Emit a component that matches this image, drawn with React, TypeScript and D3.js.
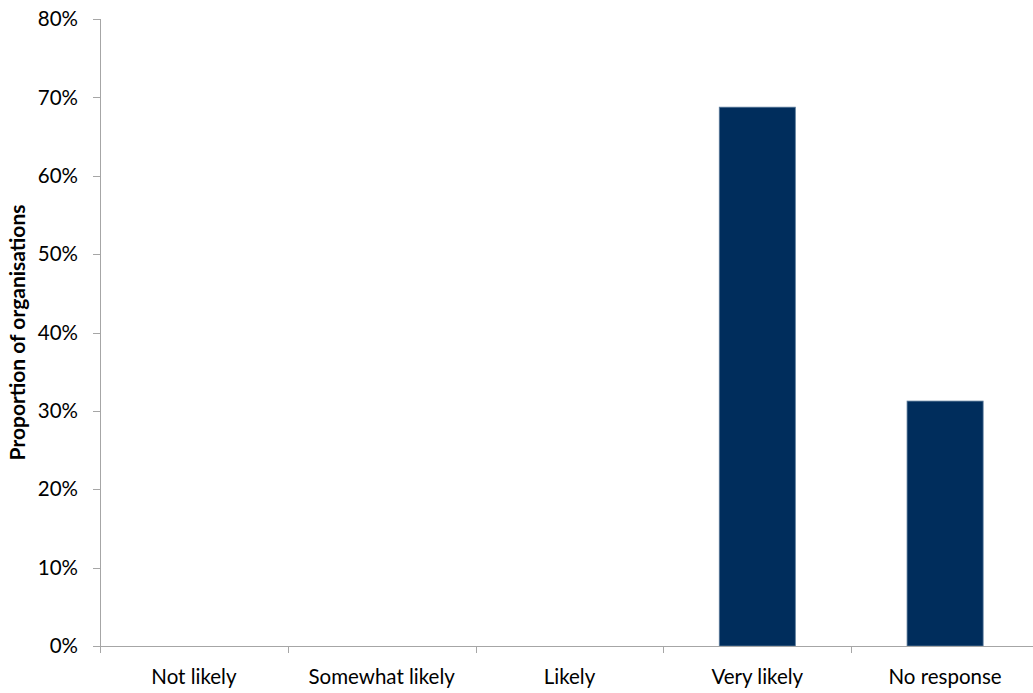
import React from "react";
import * as d3 from "d3";

const categories = ["Not likely", "Somewhat likely", "Likely", "Very likely", "No response"];
const values = [0, 0, 0, 68.75, 31.25];
const yTicks = [0, 10, 20, 30, 40, 50, 60, 70, 80];
const yTitle = "Proportion of organisations";

const W = 1033;
const H = 693;
const margin = { left: 100, top: 19, right: -6, bottom: 47 };
const font = "Lato, 'Open Sans', sans-serif";

export default function App() {
  const x = d3
    .scaleBand<string>()
    .domain(categories)
    .range([margin.left, W - margin.right])
    .paddingInner(0)
    .paddingOuter(0);
  const y = d3.scaleLinear().domain([0, 80]).range([H - margin.bottom, margin.top]);
  const bw = x.bandwidth() * 0.405;
  const x0 = margin.left;
  const yBase = y(0);
  const boundaries = [...categories.map((c) => x(c)!), W - margin.right];

  return (
    <svg
      width={W}
      height={H}
      style={{ position: "absolute", left: 0, top: 0, background: "#fff" }}
      fontFamily={font}
    >
      {values.map((v, i) =>
        v > 0 ? (
          <rect
            key={categories[i]}
            x={x(categories[i])! + (x.bandwidth() - bw) / 2}
            y={y(v)}
            width={bw}
            height={yBase - y(v)}
            fill="#002d5c"
            stroke="#5a7a9a"
            strokeWidth={0.8}
          />
        ) : null
      )}
      {/* y axis */}
      <line x1={x0 + 0.5} x2={x0 + 0.5} y1={y(80)} y2={yBase} stroke="#a6a6a6" />
      {yTicks.map((t) => (
        <g key={t}>
          <line x1={x0 - 7} x2={x0} y1={Math.round(y(t)) + 0.5} y2={Math.round(y(t)) + 0.5} stroke="#a6a6a6" />
          <text x={78} y={y(t)} dy="0.35em" textAnchor="end" fontSize={20.5} fill="#000">
            {t}%
          </text>
        </g>
      ))}
      {/* x axis */}
      <line x1={x0} x2={W} y1={Math.round(yBase) + 0.5} y2={Math.round(yBase) + 0.5} stroke="#a6a6a6" />
      {boundaries.map((b, i) => (
        <line key={i} x1={Math.round(b) + 0.5} x2={Math.round(b) + 0.5} y1={yBase} y2={yBase + 7} stroke="#a6a6a6" />
      ))}
      {categories.map((c) => (
        <text
          key={c}
          x={x(c)! + x.bandwidth() / 2}
          y={677}
          dy="0.35em"
          textAnchor="middle"
          fontSize={20.5}
          fill="#000"
        >
          {c}
        </text>
      ))}
      <text
        transform={`translate(18,${(y(80) + yBase) / 2}) rotate(-90)`}
        textAnchor="middle"
        dy="0.35em"
        fontSize={21}
        fontWeight="bold"
        fill="#000"
      >
        {yTitle}
      </text>
    </svg>
  );
}
